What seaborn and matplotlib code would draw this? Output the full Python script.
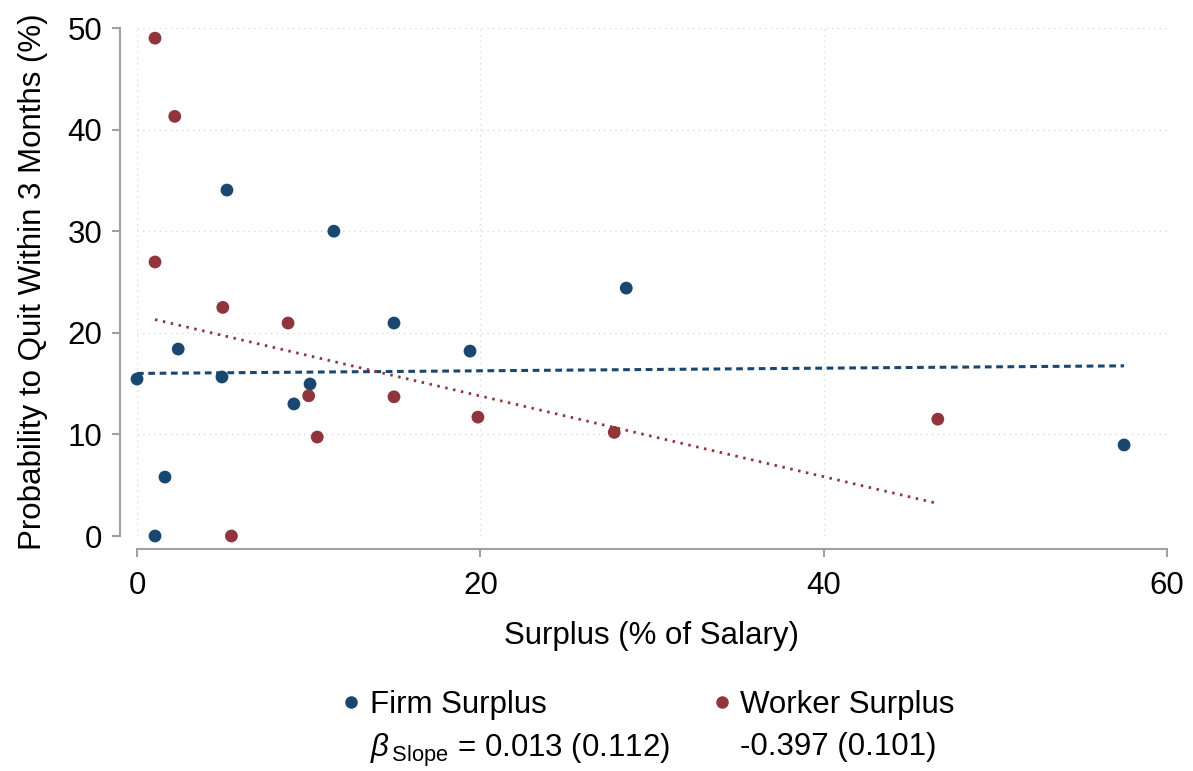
import numpy as np
import pandas as pd
import matplotlib
matplotlib.use("Agg")
import matplotlib.pyplot as plt
import seaborn as sns
from matplotlib.lines import Line2D

# Firm surplus observations
firm_x = [0.0, 1.05, 1.63, 2.4, 4.95, 5.24, 9.14, 10.08, 11.47, 14.97, 19.4, 28.5, 57.5]
firm_y = [15.45, 0.0, 5.8, 18.4, 15.65, 34.05, 13.0, 14.96, 30.0, 20.96, 18.2, 24.4, 8.96]

# Worker surplus observations
worker_x = [1.05, 2.2, 1.05, 5.0, 5.5, 8.8, 10.0, 10.5, 14.97, 19.86, 27.8, 46.65]
worker_y = [49.0, 41.3, 26.97, 22.5, 0.0, 20.96, 13.8, 9.74, 13.7, 11.7, 10.2, 11.5]

# Fitted lines: slope as reported, intercept of the fit
firm_slope, firm_se, firm_icpt = 0.013, 0.112, 16.0
worker_slope, worker_se, worker_icpt = -0.397, 0.101, 21.72

series_names = ["Firm Surplus", "Worker Surplus"]
colors = {"Firm Surplus": "#1a476f", "Worker Surplus": "#90353b"}

x_ticks = [0, 20, 40, 60]
y_ticks = [0, 10, 20, 30, 40, 50]

FS = 22.5

sns.set_theme(style="white")
plt.rcParams["font.family"] = ["Liberation Sans", "DejaVu Sans"]
plt.rcParams["mathtext.fontset"] = "custom"
plt.rcParams["mathtext.rm"] = "Liberation Sans"
plt.rcParams["mathtext.it"] = "Liberation Sans:italic"
plt.rcParams["text.color"] = "black"
plt.rcParams["axes.labelcolor"] = "black"

df = pd.DataFrame({
    "surplus": firm_x + worker_x,
    "quit": firm_y + worker_y,
    "type": [series_names[0]] * len(firm_x) + [series_names[1]] * len(worker_x),
})

fig = plt.figure(figsize=(11.93, 7.71), dpi=100)
ax = fig.add_axes([137 / 1193, 1 - 536 / 771, 1030 / 1193, 508 / 771])

# grid
for xv in x_ticks:
    ax.axvline(xv, color="#dadada", lw=1, ls=(0, (1, 3)), zorder=0)
for yv in y_ticks:
    ax.axhline(yv, color="#dadada", lw=1, ls=(0, (1, 3)), zorder=0)

# fit lines
fx = np.array([min(firm_x), max(firm_x)])
wx = np.array([min(worker_x), max(worker_x)])
sns.lineplot(x=fx, y=firm_icpt + firm_slope * fx, ax=ax, color=colors["Firm Surplus"],
             lw=2.2, ls=(0, (2.2, 1.5)), zorder=2)
sns.lineplot(x=wx, y=worker_icpt + worker_slope * wx, ax=ax, color=colors["Worker Surplus"],
             lw=2.0, ls=(0, (0.9, 2.0)), zorder=2)

sns.scatterplot(data=df, x="surplus", y="quit", hue="type", palette=colors, s=85,
                linewidth=0, ax=ax, legend=False, zorder=3, clip_on=False)

ax.set_xlim(0, 60)
ax.set_ylim(0, 50)
ax.set_xticks(x_ticks)
ax.set_yticks(y_ticks)
ax.tick_params(axis="both", labelsize=FS, colors="#a0a0a0", labelcolor="black",
               length=6, width=1.5, direction="out", pad=7, bottom=True, left=True)
ax.tick_params(axis="x", pad=10)
for side in ["top", "right"]:
    ax.spines[side].set_visible(False)
ax.spines["left"].set_position(("outward", 12))
ax.spines["bottom"].set_position(("outward", 9.5))
for side in ["left", "bottom"]:
    ax.spines[side].set_color("#a0a0a0")
    ax.spines[side].set_linewidth(1.5)

ax.set_xlabel("Surplus (% of Salary)", fontsize=FS, labelpad=14)
ax.set_ylabel("Probability to Quit Within 3 Months (%)", fontsize=FS, labelpad=14)

handles = [
    Line2D([], [], marker="o", ls="", color=colors["Firm Surplus"], markersize=8),
    Line2D([], [], ls="", marker=""),
    Line2D([], [], marker="o", ls="", color=colors["Worker Surplus"], markersize=8),
    Line2D([], [], ls="", marker=""),
]
labels = [
    "Firm Surplus",
    r"$\beta_{\,\mathrm{Slope}}$" + f" = {firm_slope:.3f} ({firm_se:.3f})",
    "Worker Surplus",
    f"{worker_slope:.3f} ({worker_se:.3f})",
]
fig.legend(handles, labels, ncol=2, loc="center", bbox_to_anchor=(0.5415, 0.054),
           frameon=False, fontsize=FS, handletextpad=0.15, columnspacing=1.2,
           labelspacing=0.4, handlelength=0.9)

fig.savefig("out.png", dpi=100)
